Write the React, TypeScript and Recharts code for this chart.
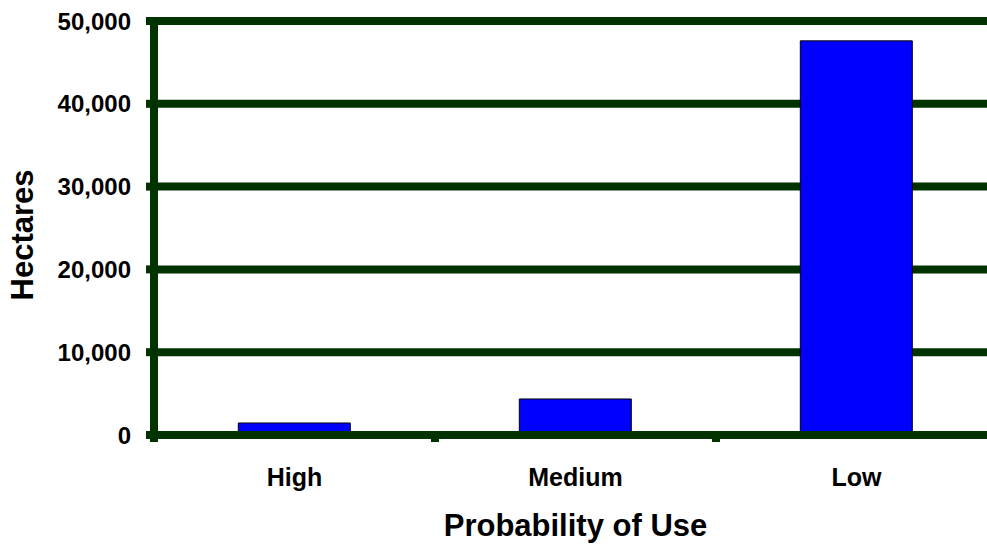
import React from "react";
import { Bar, BarChart, CartesianGrid, XAxis, YAxis } from "recharts";

const categories = ["High", "Medium", "Low"];
const hectares = [1450, 4350, 47600];
const yTicks = [0, 10000, 20000, 30000, 40000, 50000];

const data = categories.map((name, i) => ({ name, hectares: hectares[i] }));

const FONT = '"Liberation Sans", Arial, Helvetica, sans-serif';
const GREEN = "#003300";
const X_TICK_GAP = 33;

function CategoryTick(props: any) {
  const { x, y, payload } = props;
  const axisY = y - X_TICK_GAP;
  const edge = x - (payload?.offset ?? 0);
  return (
    <g>
      <line x1={edge} x2={edge} y1={axisY} y2={axisY + 7} stroke={GREEN} strokeWidth={8} />
      <text
        x={x}
        y={y}
        dy="0.71em"
        textAnchor="middle"
        fill="#000"
        fontFamily={FONT}
        fontWeight="bold"
        fontSize={25}
      >
        {payload.value}
      </text>
    </g>
  );
}

export default function App() {
  return (
    <div
      style={{
        position: "absolute",
        left: 0,
        top: 0,
        width: 987,
        height: 544,
        overflow: "hidden",
        background: "#fff",
      }}
    >
      <BarChart
        width={998}
        height={544}
        data={data}
        margin={{ top: 21, right: 1, bottom: 0, left: 0 }}
        barCategoryGap="30%"
      >
        <CartesianGrid vertical={false} stroke={GREEN} strokeWidth={8} />
        <XAxis
          dataKey="name"
          height={109}
          axisLine={{ stroke: GREEN, strokeWidth: 8 }}
          tickLine={false}
          tickSize={0}
          tickMargin={X_TICK_GAP}
          tick={<CategoryTick />}
          interval={0}
          label={{
            content: ({ viewBox }: any) => (
              <text
                x={viewBox.x + viewBox.width / 2}
                y={viewBox.y + 101}
                textAnchor="middle"
                fill="#000"
                fontFamily={FONT}
                fontWeight="bold"
                fontSize={31}
              >
                Probability of Use
              </text>
            ),
          }}
        />
        <YAxis
          width={154}
          domain={[0, 50000]}
          ticks={yTicks}
          interval={0}
          axisLine={{ stroke: GREEN, strokeWidth: 8 }}
          tickLine={{ stroke: GREEN, strokeWidth: 8 }}
          tickSize={8}
          tickMargin={15}
          tickFormatter={(v: number) => v.toLocaleString("en-US")}
          tick={{ fill: "#000", fontFamily: FONT, fontWeight: "bold", fontSize: 24 }}
          label={{
            content: ({ viewBox }: any) => {
              const cx = 33;
              const cy = viewBox.y + viewBox.height / 2 + 7;
              return (
                <text
                  x={cx}
                  y={cy}
                  transform={`rotate(-90, ${cx}, ${cy})`}
                  textAnchor="middle"
                  fill="#000"
                  fontFamily={FONT}
                  fontWeight="bold"
                  fontSize={31}
                >
                  Hectares
                </text>
              );
            },
          }}
        />
        <Bar
          dataKey="hectares"
          fill="#0000FF"
          stroke="#000000"
          strokeWidth={1}
          isAnimationActive={false}
        />
      </BarChart>
    </div>
  );
}
